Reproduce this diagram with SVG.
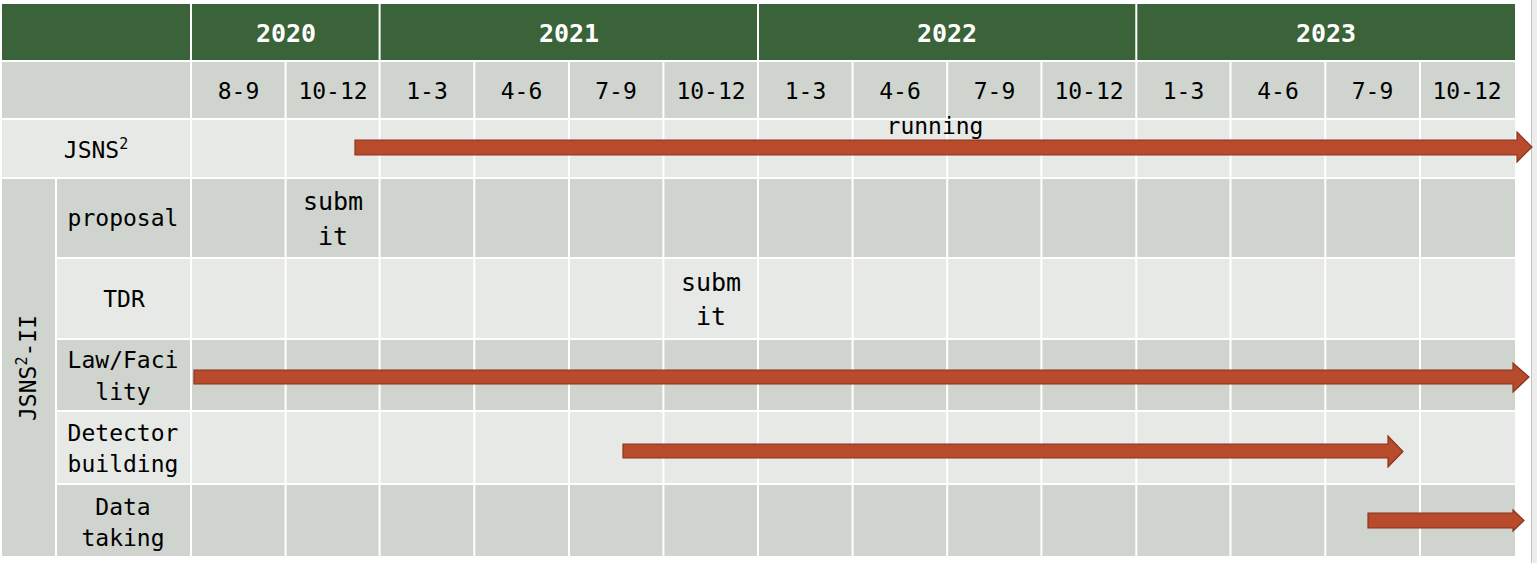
<svg xmlns="http://www.w3.org/2000/svg" width="1537" height="563" viewBox="0 0 1537 563">
<style>
.t{font-family:"DejaVu Sans Mono","Liberation Mono",monospace;font-size:23px;fill:#000;text-anchor:middle}
.b{font-size:25px}
.y{font-family:"DejaVu Sans Mono","Liberation Mono",monospace;font-size:25px;font-weight:bold;fill:#fff;text-anchor:middle}
.g{fill:#3A6339}
.d{fill:#CFD4CF}
.l{fill:#E7E9E6}
.w{stroke:#fff;stroke-width:2}
.a{fill:#B84B2C;stroke:#8A351E;stroke-width:1.2}
</style>
<rect x="0" y="0" width="1537" height="563" fill="#fff"/>
<rect x="1532" y="0" width="5" height="563" fill="#EDEDED"/>
<line x1="1531.5" y1="0" x2="1531.5" y2="563" stroke="#C4C4C4" stroke-width="1"/>

<g id="header">
<rect class="g" x="2" y="4" width="1513" height="56"/>
<line class="w" x1="191" y1="4" x2="191" y2="60"/>
<line class="w" x1="379.6" y1="4" x2="379.6" y2="60"/>
<line class="w" x1="758" y1="4" x2="758" y2="60"/>
<line class="w" x1="1136.3" y1="4" x2="1136.3" y2="60"/>
<text class="y" x="286" y="42">2020</text>
<text class="y" x="569" y="42">2021</text>
<text class="y" x="947" y="42">2022</text>
<text class="y" x="1326" y="42">2023</text>
</g>

<g id="quarters">
<rect class="d" x="2" y="62" width="1513" height="56"/>
<text class="t" x="238.5" y="99">8-9</text>
<text class="t" x="333" y="99">10-12</text>
<text class="t" x="427" y="99">1-3</text>
<text class="t" x="521.5" y="99">4-6</text>
<text class="t" x="616" y="99">7-9</text>
<text class="t" x="711" y="99">10-12</text>
<text class="t" x="805.5" y="99">1-3</text>
<text class="t" x="900" y="99">4-6</text>
<text class="t" x="994.5" y="99">7-9</text>
<text class="t" x="1089" y="99">10-12</text>
<text class="t" x="1183.5" y="99">1-3</text>
<text class="t" x="1278" y="99">4-6</text>
<text class="t" x="1372.5" y="99">7-9</text>
<text class="t" x="1467" y="99">10-12</text>
</g>

<g id="row-jsns2">
<rect class="l" x="2" y="120" width="1513" height="57"/>
<text class="t" x="96" y="158">JSNS<tspan font-size="15" dy="-9">2</tspan></text>
</g>

<g id="group-jsns2-ii">
<rect class="d" x="2" y="179" width="53" height="377"/>
<text class="t" transform="translate(36 368) rotate(-90)">JSNS<tspan font-size="15" dy="-9">2</tspan><tspan dy="9">-II</tspan></text>
</g>

<g id="row-proposal">
<rect class="d" x="57" y="179" width="1458" height="78"/>
<text class="t" x="123" y="226">proposal</text>
<text class="t b" x="333" y="210">subm</text>
<text class="t b" x="333" y="245">it</text>
</g>

<g id="row-tdr">
<rect class="l" x="57" y="259" width="1458" height="79"/>
<text class="t" x="124" y="307">TDR</text>
<text class="t b" x="711" y="291">subm</text>
<text class="t b" x="711" y="325">it</text>
</g>

<g id="row-law">
<rect class="d" x="57" y="340" width="1458" height="70"/>
<text class="t" x="123" y="368">Law/Faci</text>
<text class="t" x="123" y="400">lity</text>
</g>

<g id="row-detector">
<rect class="l" x="57" y="412" width="1458" height="71"/>
<text class="t" x="123" y="441">Detector</text>
<text class="t" x="123" y="472">building</text>
</g>

<g id="row-data">
<rect class="d" x="57" y="485" width="1458" height="71"/>
<text class="t" x="123" y="515">Data</text>
<text class="t" x="123" y="546">taking</text>
</g>

<g id="grid">
<line class="w" x1="191" y1="60" x2="191" y2="556"/>
<line class="w" x1="285.6" y1="62" x2="285.6" y2="556"/>
<line class="w" x1="379.6" y1="60" x2="379.6" y2="556"/>
<line class="w" x1="474.3" y1="62" x2="474.3" y2="556"/>
<line class="w" x1="569" y1="62" x2="569" y2="556"/>
<line class="w" x1="663.4" y1="62" x2="663.4" y2="556"/>
<line class="w" x1="758" y1="60" x2="758" y2="556"/>
<line class="w" x1="852.6" y1="62" x2="852.6" y2="556"/>
<line class="w" x1="947.2" y1="62" x2="947.2" y2="556"/>
<line class="w" x1="1041.4" y1="62" x2="1041.4" y2="556"/>
<line class="w" x1="1136.3" y1="60" x2="1136.3" y2="556"/>
<line class="w" x1="1230.5" y1="62" x2="1230.5" y2="556"/>
<line class="w" x1="1325.3" y1="62" x2="1325.3" y2="556"/>
<line class="w" x1="1420" y1="62" x2="1420" y2="556"/>
</g>

<g id="running-label">
<text class="t" x="935" y="134" font-size="25">running</text>
</g>

<g id="connectors">
<polygon class="a" points="355,140 1517,140 1517,132 1532,147 1517,162 1517,155 355,155"/>
<polygon class="a" points="194,370 1513,370 1513,363 1529,377 1513,392 1513,384 194,384"/>
<polygon class="a" points="623,444 1388,444 1388,436 1403,451.5 1388,467 1388,458 623,458"/>
<polygon class="a" points="1368,513 1513,513 1513,510 1524,520.5 1513,531 1513,528 1368,528"/>
</g>
</svg>
